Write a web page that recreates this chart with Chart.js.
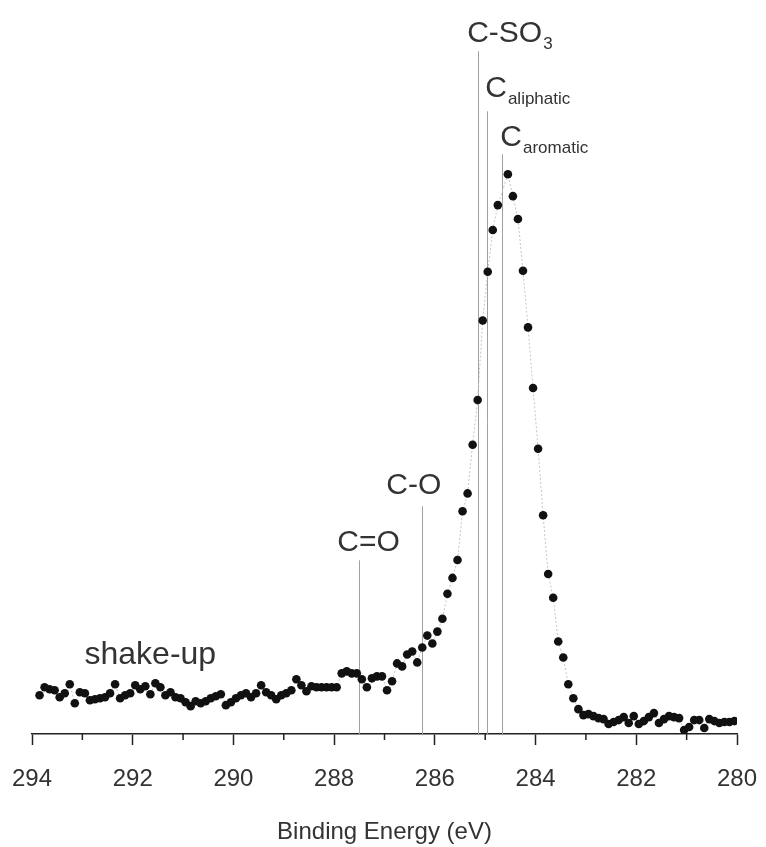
<!DOCTYPE html>
<html>
<head>
<meta charset="utf-8">
<title>C 1s XPS spectrum</title>
<script src="https://cdn.jsdelivr.net/npm/chart.js@4.4.1/dist/chart.umd.min.js"></script>
<style>
  html, body { margin: 0; padding: 0; background: #fff; }
  canvas { display: block; }
</style>
</head>
<body>
<canvas id="xpsChart" width="766" height="847"></canvas>
<script>
// binding energies of the measured points (eV)
const energies = [
  293.85, 293.75, 293.65, 293.55, 293.45, 293.35, 293.25, 293.15, 293.05, 292.95,
  292.85, 292.75, 292.65, 292.55, 292.45, 292.35, 292.25, 292.15, 292.05, 291.95,
  291.85, 291.75, 291.65, 291.55, 291.45, 291.35, 291.25, 291.15, 291.05, 290.95,
  290.85, 290.75, 290.65, 290.55, 290.45, 290.35, 290.25, 290.15, 290.05, 289.95,
  289.85, 289.75, 289.65, 289.55, 289.45, 289.35, 289.25, 289.15, 289.05, 288.95,
  288.85, 288.75, 288.65, 288.55, 288.45, 288.35, 288.25, 288.15, 288.05, 287.95,
  287.85, 287.75, 287.65, 287.55, 287.45, 287.35, 287.25, 287.15, 287.05, 286.95,
  286.85, 286.75, 286.65, 286.55, 286.45, 286.35, 286.25, 286.15, 286.05, 285.95,
  285.85, 285.75, 285.65, 285.55, 285.45, 285.35, 285.25, 285.15, 285.05, 284.95,
  284.85, 284.75, 284.55, 284.45, 284.35, 284.25, 284.15, 284.05, 283.95,
  283.85, 283.75, 283.65, 283.55, 283.45, 283.35, 283.25, 283.15, 283.05, 282.95,
  282.85, 282.75, 282.65, 282.55, 282.45, 282.35, 282.25, 282.15, 282.05, 281.95,
  281.85, 281.75, 281.65, 281.55, 281.45, 281.35, 281.25, 281.15, 281.05, 280.95,
  280.85, 280.75, 280.65, 280.55, 280.45, 280.35, 280.25, 280.15, 280.05
];

// intensity (arbitrary units)
const intensity = [
  39, 47, 45, 44, 37, 41, 50, 31, 42, 41,
  34, 35, 36, 37, 41, 50, 36, 39, 41, 49,
  45, 48, 40, 51, 47, 39, 42, 37, 36, 32,
  28, 33, 31, 33, 36, 38, 40, 29, 32, 36,
  39, 41, 37, 41, 49, 42, 39, 35, 39, 41,
  44, 55, 49, 43, 48, 47, 47, 47, 47, 47,
  61, 63, 61, 61, 55, 47, 56, 58, 58, 44,
  53, 71, 68, 80, 83, 72, 87, 99, 91, 103,
  116, 141, 157, 175, 224, 242, 291, 336, 416, 465,
  507, 532, 563, 541, 518, 466, 409, 348, 287,
  220, 161, 137, 93, 77, 50, 36, 25, 19, 20,
  18, 16, 15, 10, 12, 14, 17, 11, 18, 10,
  13, 17, 21, 11, 15, 18, 17, 16, 4, 7,
  14, 14, 6, 15, 13, 11, 12, 12, 13
];

// component positions marked on the spectrum
const peakEnergies = [287.5, 286.25, 285.14, 284.96, 284.66];
const peakNames = ["C=O", "C-O", "C-SO", "C", "C"];
const peakSubscripts = ["", "", "3", "aliphatic", "aromatic"];

const xTickMin = 280;
const xTickMax = 294;

const points = energies.map((e, i) => ({ x: e, y: intensity[i] }));

const FONT = "'Liberation Sans', Arial, Helvetica, sans-serif";
const TEXT = "#333";

// where each marker line starts and where its label sits (pixels from chart top)
const markerLayout = [
  { dx: -22, top: 556, base: 547 },
  { dx: -36, top: 502, base: 490 },
  { dx: -11, top: 47, base: 38 },
  { dx: -2, top: 107, base: 93 },
  { dx: -2, top: 150, base: 142 }
];

const markersPlugin = {
  id: "markers",
  beforeDatasetsDraw(chart) {
    const ctx = chart.ctx;
    const x = chart.scales.x;
    const area = chart.chartArea;
    ctx.save();
    ctx.strokeStyle = "#a0a0a0";
    ctx.lineWidth = 1;
    peakEnergies.forEach((e, i) => {
      const px = Math.round(x.getPixelForValue(e)) + 0.5;
      ctx.beginPath();
      ctx.moveTo(px, area.top + markerLayout[i].top);
      ctx.lineTo(px, area.bottom);
      ctx.stroke();
    });
    ctx.restore();
  },
  afterDraw(chart) {
    const ctx = chart.ctx;
    const x = chart.scales.x;
    const area = chart.chartArea;
    ctx.save();
    ctx.fillStyle = TEXT;
    ctx.textBaseline = "alphabetic";
    ctx.textAlign = "left";
    peakEnergies.forEach((e, i) => {
      const lay = markerLayout[i];
      const px = x.getPixelForValue(e) + lay.dx;
      const py = area.top + lay.base;
      ctx.font = "30px " + FONT;
      ctx.fillText(peakNames[i], px, py);
      const w = ctx.measureText(peakNames[i]).width;
      if (peakSubscripts[i]) {
        ctx.font = "17px " + FONT;
        ctx.fillText(peakSubscripts[i], px + w + 1, py + 7);
      }
    });
    ctx.font = "32px " + FONT;
    ctx.textAlign = "center";
    ctx.fillText("shake-up", x.getPixelForValue(291.65), area.top + 660);

    // minor ticks on odd values
    ctx.strokeStyle = "#222";
    ctx.lineWidth = 1.5;
    for (let v = xTickMin + 1; v < xTickMax; v += 2) {
      const px = x.getPixelForValue(v);
      ctx.beginPath();
      ctx.moveTo(px, area.bottom);
      ctx.lineTo(px, area.bottom + 6);
      ctx.stroke();
    }
    ctx.restore();
  }
};

const ctx = document.getElementById("xpsChart").getContext("2d");
new Chart(ctx, {
  type: "scatter",
  data: {
    datasets: [
      {
        label: "C 1s",
        data: points,
        showLine: true,
        borderColor: "#c4c4c4",
        borderWidth: 1,
        borderDash: [2, 2],
        pointRadius: 4.3,
        pointBackgroundColor: "#111",
        pointBorderWidth: 0,
        tension: 0
      }
    ]
  },
  options: {
    responsive: false,
    animation: false,
    layout: { padding: { left: 32, right: 29, top: 0, bottom: 0 } },
    plugins: {
      legend: { display: false },
      tooltip: { enabled: false }
    },
    scales: {
      x: {
        type: "linear",
        reverse: true,
        min: xTickMin,
        max: xTickMax,
        afterFit: (scale) => {
          scale.height = 113;
          scale.paddingLeft = 0;
          scale.paddingRight = 0;
        },
        border: { display: true, color: "#222", width: 1.5 },
        grid: {
          drawOnChartArea: false,
          drawTicks: true,
          tickLength: 11,
          tickColor: "#222",
          tickWidth: 1.5
        },
        ticks: {
          stepSize: 2,
          padding: 20,
          maxRotation: 0,
          autoSkip: false,
          color: TEXT,
          font: { family: FONT, size: 24 }
        },
        title: {
          display: true,
          text: "Binding Energy (eV)",
          color: TEXT,
          padding: { top: 0, bottom: 0 },
          font: { family: FONT, size: 24 }
        }
      },
      y: {
        display: false,
        min: 0,
        max: 734
      }
    }
  },
  plugins: [markersPlugin]
});
</script>
</body>
</html>
